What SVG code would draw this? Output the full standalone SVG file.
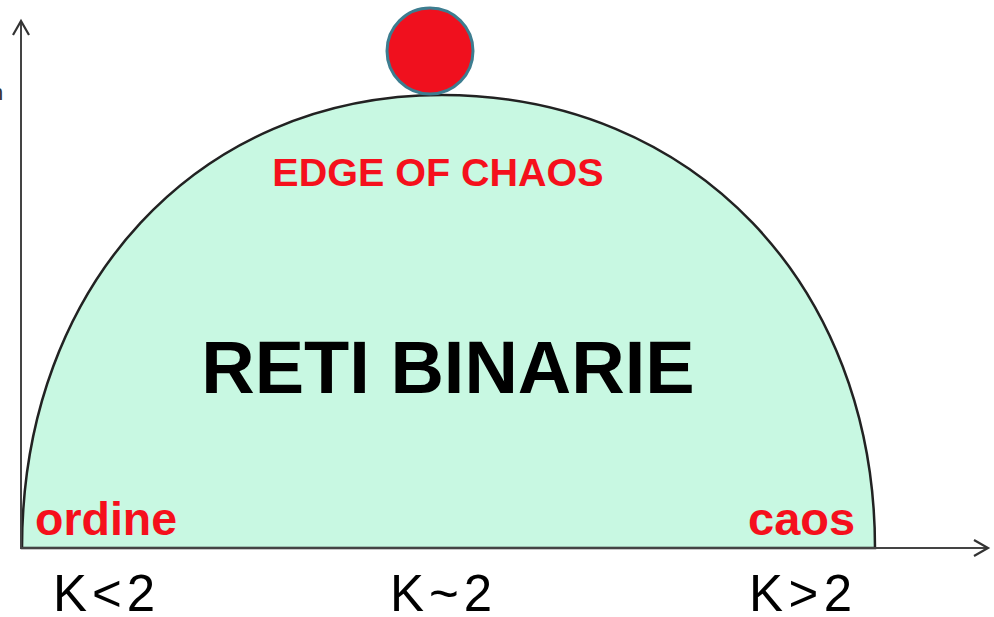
<svg xmlns="http://www.w3.org/2000/svg" width="994" height="617" viewBox="0 0 994 617">
<style>
.axis{stroke:#444;stroke-width:2;fill:none}
.lbl{font-family:"Liberation Sans",Arial,sans-serif;font-weight:bold;fill:#f5101c}
.k{font-family:"Liberation Sans",Arial,sans-serif;font-size:51px;fill:#000}
</style>
<defs>
<marker id="arr" viewBox="0 0 20 20" refX="16" refY="10" markerWidth="20" markerHeight="20" markerUnits="userSpaceOnUse" orient="auto">
<path d="M2,2 L16,10 L2,18" fill="none" stroke="#333" stroke-width="2.2"/>
</marker>
</defs>
<rect width="994" height="617" fill="#fff"/>
<text x="-9" y="100" font-family="Liberation Sans,Arial,sans-serif" font-size="22" fill="#333">n</text>
<g id="region">
<path d="M22,548 C22,285 198,95 442,95 C693,95 875,285 875,548 Z" fill="#c8f8e2" stroke="#222" stroke-width="2.5"/>
</g>
<g id="connectors">
<line class="axis" x1="21" y1="549" x2="21" y2="21" marker-end="url(#arr)"/>
<line class="axis" x1="20" y1="548" x2="988" y2="548" marker-end="url(#arr)"/>
</g>
<g id="ball">
<circle cx="430" cy="51" r="43" fill="#f0101e" stroke="#3d7d90" stroke-width="3"/>
</g>
<g id="labels">
<text class="lbl" x="438" y="186" font-size="39.5" text-anchor="middle">EDGE OF CHAOS</text>
<text x="448" y="393" font-family="Liberation Sans,Arial,sans-serif" font-weight="bold" font-size="74" text-anchor="middle" fill="#000">RETI BINARIE</text>
<text class="lbl" x="35" y="535" font-size="46.5">ordine</text>
<text class="lbl" x="748" y="535" font-size="47">caos</text>
<text class="k" x="53" y="611" textLength="102" lengthAdjust="spacing">K&lt;2</text>
<text class="k" x="390" y="611" textLength="102" lengthAdjust="spacing">K~2</text>
<text class="k" x="749" y="611" textLength="103" lengthAdjust="spacing">K&gt;2</text>
</g>
</svg>
